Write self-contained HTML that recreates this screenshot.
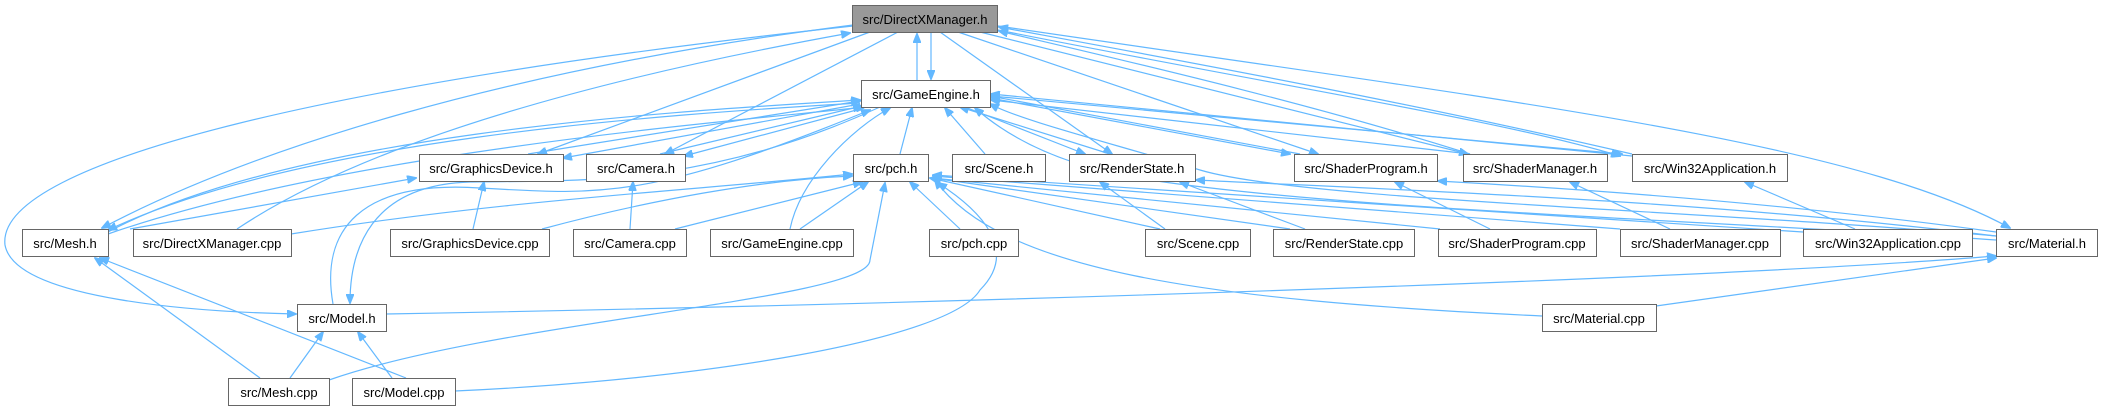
<!DOCTYPE html>
<html><head><meta charset="utf-8"><style>
html,body{margin:0;padding:0;background:#fff;width:2102px;height:411px;overflow:hidden}
svg text{font-family:"Liberation Sans",Arial,sans-serif;font-size:13px;fill:#000}
</style></head><body>
<svg width="2102" height="411" viewBox="0 0 2102 411" xmlns="http://www.w3.org/2000/svg">
<defs><marker id="a" markerWidth="10" markerHeight="8" refX="9" refY="4" orient="auto" markerUnits="userSpaceOnUse"><path d="M0,0 L10,4 L0,8 z" fill="#63b8ff" stroke="#63b8ff"/></marker></defs>
<g fill="none" stroke="#63b8ff" stroke-width="1.2" marker-end="url(#a)">
<!-- DXM edges -->
<path d="M917,80 L917,34"/>
<path d="M931,33 L931,79"/>
<path d="M853,25 C500,70 250,150 102,228"/>
<path d="M853,26 C350,80 -5,160 5,245 C15,300 200,312 296,314"/>
<path d="M237,229 C400,120 700,60 850,33"/>
<path d="M870,32 L538,154"/>
<path d="M898,32 L665,154"/>
<path d="M940,32 L1112,154"/>
<path d="M958,32 L1318,154"/>
<path d="M1470,154 C1300,100 1100,55 999,31"/>
<path d="M1632,154 C1400,100 1150,55 999,27"/>
<path d="M998,26 C1500,100 1850,140 2010,228"/>
<path d="M980,32 L1468,154"/>
<path d="M998,30 C1300,90 1500,120 1620,156"/>
<!-- GE edges -->
<path d="M528,154 L860,101"/>
<path d="M860,104 L563,158"/>
<path d="M660,154 L862,106"/>
<path d="M864,108 L684,156"/>
<path d="M108,232 C300,130 700,110 860,100"/>
<path d="M860,103 C650,115 300,140 108,230"/>
<path d="M108,234 C350,150 750,120 865,107"/>
<path d="M333,304 C320,230 360,180 480,188 C600,195 650,200 870,110 "/>
<path d="M880,107 C700,190 560,180 470,182 C370,185 350,250 350,303"/>
<path d="M900,154 L912,108"/>
<path d="M985,154 L945,108"/>
<path d="M790,229 C800,180 850,130 890,108"/>
<path d="M1110,154 L960,107"/>
<path d="M965,107 L1085,154"/>
<path d="M1300,154 L990,96"/>
<path d="M990,98 L1290,154"/>
<path d="M1470,154 L991,100"/>
<path d="M1632,156 L991,94"/>
<path d="M991,96 L1622,154"/>
<path d="M1996,240 C1700,220 1350,210 1150,180 C1050,165 1000,130 975,108"/>
<path d="M1996,236 C1700,210 1300,200 1200,170 C1100,140 1020,120 990,104"/>
<!-- pch edges -->
<path d="M291,234 C500,200 700,190 852,174"/>
<path d="M542,229 C650,200 760,180 852,176"/>
<path d="M675,229 L862,182"/>
<path d="M800,229 L868,182"/>
<path d="M960,229 L910,182"/>
<path d="M1160,229 L930,178"/>
<path d="M1290,229 L932,178"/>
<path d="M1440,229 L932,178"/>
<path d="M1620,229 L933,176"/>
<path d="M1803,232 L933,175"/>
<path d="M1542,316 C1200,300 1000,270 935,180"/>
<path d="M329,380 C500,320 870,300 870,260 L885,183"/>
<path d="M455,391 C700,380 950,340 980,290 C1020,250 980,210 938,183"/>
<!-- misc -->
<path d="M473,229 L484,182"/>
<path d="M630,229 L633,182"/>
<path d="M130,229 L416,178"/>
<path d="M1165,229 L1100,182"/>
<path d="M1305,229 L1180,182"/>
<path d="M1490,229 L1395,182"/>
<path d="M1670,229 L1570,182"/>
<path d="M1855,229 L1745,182"/>
<path d="M1996,236 C1700,200 1400,190 1196,180"/>
<path d="M1996,232 C1800,205 1600,190 1438,181"/>
<path d="M386,314 C900,305 1700,280 1996,256"/>
<path d="M1656,306 L1996,258"/>
<path d="M290,378 L323,332"/>
<path d="M392,378 L358,332"/>
<path d="M260,378 L95,258"/>
<path d="M406,378 L100,258"/>
</g>
<g stroke="#666" stroke-width="1">
<rect x="852.5" y="5.5" width="145" height="27" fill="#999"/>
<rect x="861.5" y="80.5" width="129" height="27" fill="#fff"/>
<rect x="419.5" y="154.5" width="144" height="27" fill="#fff"/>
<rect x="586.5" y="154.5" width="99" height="27" fill="#fff"/>
<rect x="853.5" y="154.5" width="75" height="27" fill="#fff"/>
<rect x="952.5" y="154.5" width="93" height="27" fill="#fff"/>
<rect x="1069.5" y="154.5" width="126" height="27" fill="#fff"/>
<rect x="1294.5" y="154.5" width="143" height="27" fill="#fff"/>
<rect x="1463.5" y="154.5" width="144" height="27" fill="#fff"/>
<rect x="1632.5" y="154.5" width="155" height="27" fill="#fff"/>
<rect x="22.5" y="229.5" width="86" height="27" fill="#fff"/>
<rect x="133.5" y="229.5" width="158" height="27" fill="#fff"/>
<rect x="390.5" y="229.5" width="159" height="27" fill="#fff"/>
<rect x="573.5" y="229.5" width="113" height="27" fill="#fff"/>
<rect x="710.5" y="229.5" width="143" height="27" fill="#fff"/>
<rect x="929.5" y="229.5" width="89" height="27" fill="#fff"/>
<rect x="1145.5" y="229.5" width="105" height="27" fill="#fff"/>
<rect x="1273.5" y="229.5" width="141" height="27" fill="#fff"/>
<rect x="1438.5" y="229.5" width="158" height="27" fill="#fff"/>
<rect x="1620.5" y="229.5" width="160" height="27" fill="#fff"/>
<rect x="1803.5" y="229.5" width="169" height="27" fill="#fff"/>
<rect x="1996.5" y="229.5" width="101" height="27" fill="#fff"/>
<rect x="297.5" y="304.5" width="89" height="27" fill="#fff"/>
<rect x="1542.5" y="304.5" width="114" height="27" fill="#fff"/>
<rect x="228.5" y="378.5" width="101" height="27" fill="#fff"/>
<rect x="352.5" y="378.5" width="103" height="27" fill="#fff"/>
</g>
<g text-anchor="middle">
<text x="925" y="24">src/DirectXManager.h</text>
<text x="926" y="99">src/GameEngine.h</text>
<text x="491" y="173">src/GraphicsDevice.h</text>
<text x="636" y="173">src/Camera.h</text>
<text x="891" y="173">src/pch.h</text>
<text x="999" y="173">src/Scene.h</text>
<text x="1132" y="173">src/RenderState.h</text>
<text x="1366" y="173">src/ShaderProgram.h</text>
<text x="1535" y="173">src/ShaderManager.h</text>
<text x="1710" y="173">src/Win32Application.h</text>
<text x="65" y="248">src/Mesh.h</text>
<text x="212" y="248">src/DirectXManager.cpp</text>
<text x="470" y="248">src/GraphicsDevice.cpp</text>
<text x="630" y="248">src/Camera.cpp</text>
<text x="782" y="248">src/GameEngine.cpp</text>
<text x="974" y="248">src/pch.cpp</text>
<text x="1198" y="248">src/Scene.cpp</text>
<text x="1344" y="248">src/RenderState.cpp</text>
<text x="1517" y="248">src/ShaderProgram.cpp</text>
<text x="1700" y="248">src/ShaderManager.cpp</text>
<text x="1888" y="248">src/Win32Application.cpp</text>
<text x="2047" y="248">src/Material.h</text>
<text x="342" y="323">src/Model.h</text>
<text x="1599" y="323">src/Material.cpp</text>
<text x="279" y="397">src/Mesh.cpp</text>
<text x="404" y="397">src/Model.cpp</text>
</g>
</svg>
</body></html>
